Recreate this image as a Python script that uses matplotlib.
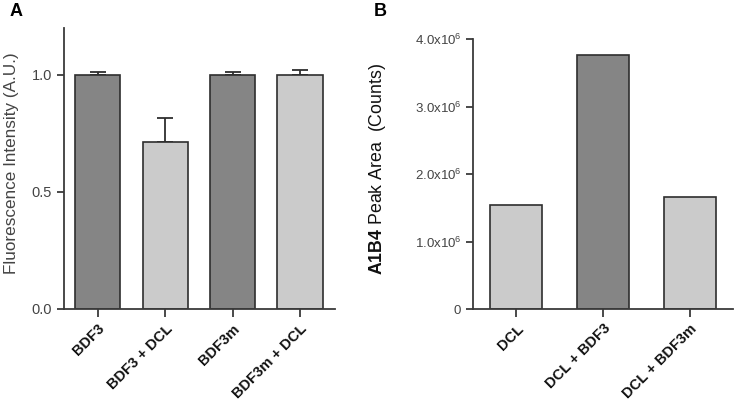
import matplotlib.pyplot as plt
from matplotlib.ticker import FuncFormatter

plt.rcParams['font.family'] = ['Liberation Sans', 'DejaVu Sans']
plt.rcParams['mathtext.fontset'] = 'custom'
plt.rcParams['mathtext.rm'] = 'Liberation Sans'
plt.rcParams['mathtext.bf'] = 'Liberation Sans:bold'

# Panel A data
a_labels = ['BDF3', 'BDF3 + DCL', 'BDF3m', 'BDF3m + DCL']
a_values = [1.0, 0.715, 1.0, 1.0]
a_errors = [0.01, 0.10, 0.01, 0.02]
a_shades = ['dark', 'light', 'dark', 'light']

# Panel B data
b_labels = ['DCL', 'DCL + BDF3', 'DCL + BDF3m']
b_values = [1.54e6, 3.77e6, 1.66e6]
b_shades = ['light', 'dark', 'light']

DARK = '#858585'
LIGHT = '#cbcbcb'
EDGE = '#2e2e2e'
AXC = '#3a3a3a'
TXT = '#444444'


def style_axes(ax):
    for s in ['top', 'right']:
        ax.spines[s].set_visible(False)
    for s in ['left', 'bottom']:
        ax.spines[s].set_color(AXC)
        ax.spines[s].set_linewidth(1.3)
    ax.tick_params(axis='both', colors=AXC, width=1.3)
    ax.tick_params(axis='y', length=5, labelcolor=TXT, labelsize=10.5)
    ax.tick_params(axis='x', length=6, pad=3, labelcolor='#111111')


fig = plt.figure(figsize=(7.36, 4.01), dpi=100)
W, H = 736, 401

# Panel A
axA = fig.add_axes([64 / W, 1 - 309 / H, (335 - 64) / W, (309 - 28) / H])
colsA = [DARK if s == 'dark' else LIGHT for s in a_shades]
xa = range(len(a_labels))
axA.bar(xa, a_values, width=0.67, color=colsA, edgecolor=EDGE, linewidth=1.2, zorder=2)
axA.errorbar(xa, a_values, yerr=[[0] * len(a_errors), a_errors], fmt='none',
             ecolor=EDGE, elinewidth=1.3, capsize=6, capthick=1.3, zorder=1)
axA.set_xlim(-0.5, 3.52)
axA.set_ylim(0, 1.2)
axA.set_yticks([0.0, 0.5, 1.0])
axA.set_yticklabels(['0.0', '0.5', '1.0'])
axA.set_xticks(list(xa))
axA.set_xticklabels(a_labels, rotation=45, ha='right', rotation_mode='anchor',
                    fontweight='bold', fontsize=10.5)
axA.set_ylabel('Fluorescence Intensity (A.U.)', fontsize=12.3, color=TXT)
axA.yaxis.set_label_coords(-45 / 271, (309 - 163) / 281)
style_axes(axA)

# Panel B
axB = fig.add_axes([473 / W, 1 - 309 / H, (733 - 473) / W, (309 - 39) / H])
colsB = [DARK if s == 'dark' else LIGHT for s in b_shades]
xb = range(len(b_labels))
axB.bar(xb, b_values, width=0.6, color=colsB, edgecolor=EDGE, linewidth=1.2, zorder=2)
axB.set_xlim(-0.5, 2.5)
axB.set_ylim(0, 4.0e6)
axB.set_yticks([0, 1e6, 2e6, 3e6, 4e6])


def sci_fmt(v, pos):
    if v == 0:
        return '0'
    return r'%.1fx10$^{6}$' % (v / 1e6)


axB.yaxis.set_major_formatter(FuncFormatter(sci_fmt))
axB.set_xticks(list(xb))
axB.set_xticklabels(b_labels, rotation=45, ha='right', rotation_mode='anchor',
                    fontweight='bold', fontsize=10.5)
axB.set_ylabel(r'$\bf{A1B4}$ Peak Area  (Counts)', fontsize=12.8, color='#111111')
axB.yaxis.set_label_coords(-85 / 260, (309 - 169) / 270)
style_axes(axB)
axB.tick_params(axis='y', labelsize=9.5)

fig.text(10 / W, 1 - 12 / H, 'A', fontsize=13, fontweight='bold', va='center', ha='left')
fig.text(374 / W, 1 - 12 / H, 'B', fontsize=13, fontweight='bold', va='center', ha='left')

fig.savefig('out.png', dpi=100)
